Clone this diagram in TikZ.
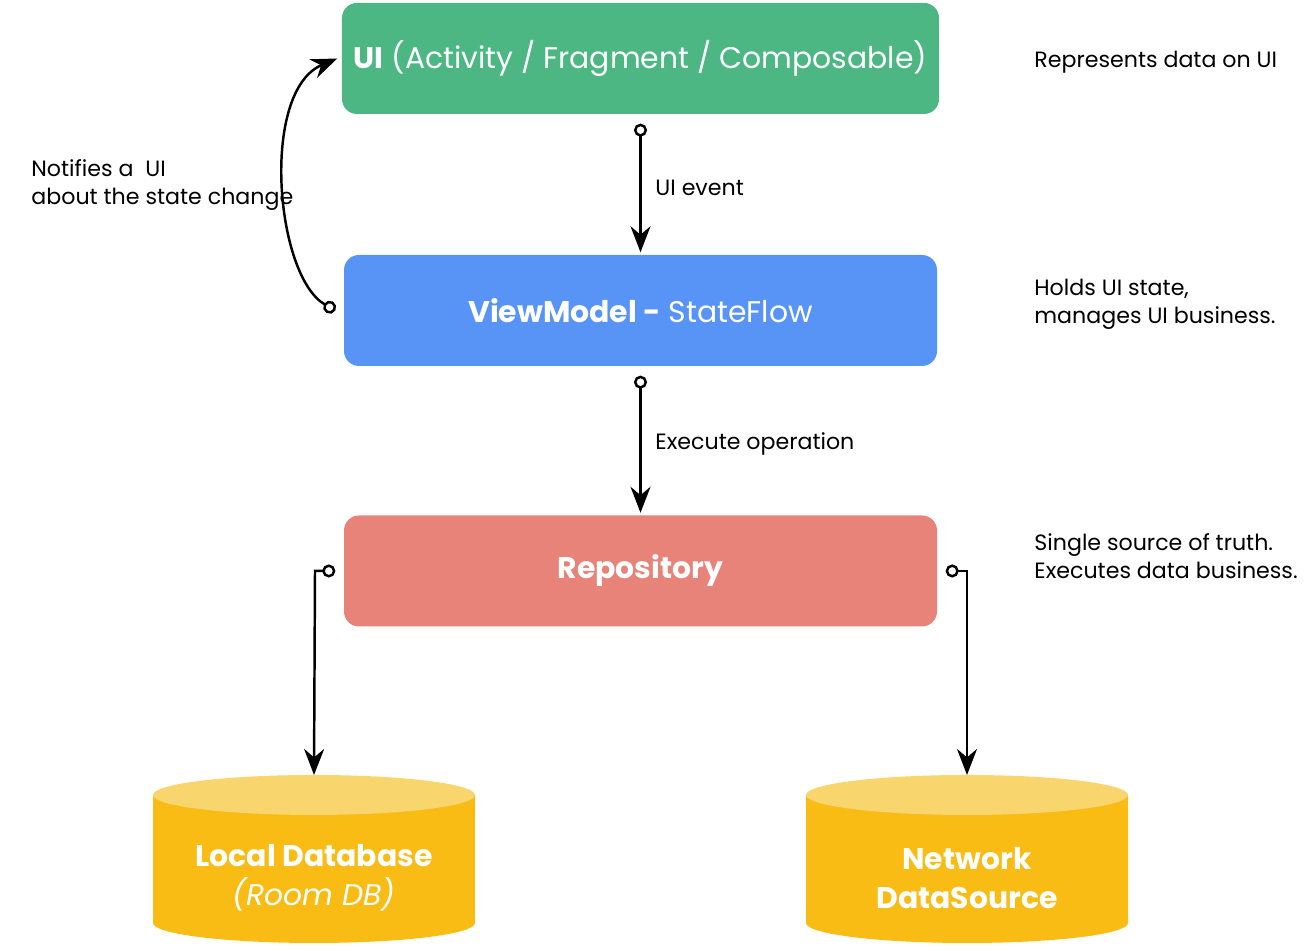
\documentclass[tikz,border=0pt]{standalone}
\usepackage{fontspec}
\setmainfont{Poppins}
\usetikzlibrary{arrows.meta,calc,positioning}
\definecolor{uigreen}{HTML}{4CB782}
\definecolor{vmblue}{HTML}{5894F5}
\definecolor{repored}{HTML}{E8837A}
\definecolor{dbyellow}{HTML}{F9BC15}
\definecolor{dbtop}{HTML}{F9D56E}
\begin{document}
\begin{tikzpicture}[
    layer/.style={rectangle,rounded corners=0.15cm,fill=#1,text=white,
      minimum width=5.93cm,minimum height=1.11cm,font=\fontsize{8.5}{10}\selectfont},
    note/.style={anchor=west,align=left,font=\fontsize{6.3}{8}\selectfont},
    connector/.style={line width=0.7pt,{Circle[open,length=1.3mm,width=1.3mm]}-{Stealth[length=2.6mm,width=2mm]}},
    dbtext/.style={text=white,align=center,font=\fontsize{8.5}{11}\selectfont}]
    \useasboundingbox (0,0) rectangle (13.16,9.51);
    % the three layers
    \node (ui) [layer=uigreen] at (6.405,8.925) {\textbf{UI} (Activity / Fragment / Composable)};
    \node (viewmodel) [layer=vmblue] at (6.405,6.405) {\textbf{ViewModel -} StateFlow};
    \node (repository) [layer=repored] at (6.405,3.80) {\textbf{Repository}};
    % databases, drawn by hand
    \foreach \name/\cx in {local/3.14,network/9.67} {
      \fill[dbyellow] (\cx-1.61,1.56) -- (\cx-1.61,0.28) arc[start angle=180,end angle=360,x radius=1.61,y radius=0.2]
        -- (\cx+1.61,1.56) -- cycle;
      \fill[dbtop] (\cx,1.56) ellipse[x radius=1.61,y radius=0.2];
      \coordinate (\name_top) at (\cx,1.76);
    }
    \node (local_text) [dbtext] at (3.14,0.73) {\textbf{Local Database}\\\textit{(Room DB)}};
    \node (network_text) [dbtext] at (9.67,0.73) {\textbf{Network}\\\textbf{DataSource}};
    % notes
    \node (ui_note) [note] at (10.22,8.89) {Represents data on UI};
    \node (vm_note) [note] at (10.22,6.47) {Holds UI state,\\manages UI business.};
    \node (repo_note) [note] at (10.22,3.95) {Single source of truth.\\Executes data business.};
    \node (notify_note) [note] at (0.19,7.66) {Notifies a~~UI\\about the state change};
    % connectors
    \draw[connector] ($(ui.south)+(0,-0.09)$) -- node[note,right=0.02cm] {UI event} ($(viewmodel.north)+(0,0.02)$);
    \draw[connector] ($(viewmodel.south)+(0,-0.09)$) -- node[note,right=0.02cm] {Execute operation} ($(repository.north)+(0,0.02)$);
    \draw[connector] ($(viewmodel.west)+(-0.08,0)$) .. controls (2.75,6.75) and (2.6,8.6) .. ($(ui.west)+(-0.04,0)$);
    \draw[connector] ($(repository.west)+(-0.08,0)$) -- (3.15,3.80) -- (local_top);
    \draw[connector] ($(repository.east)+(0.08,0)$) -- (9.67,3.80) -- (network_top);
\end{tikzpicture}
\end{document}
